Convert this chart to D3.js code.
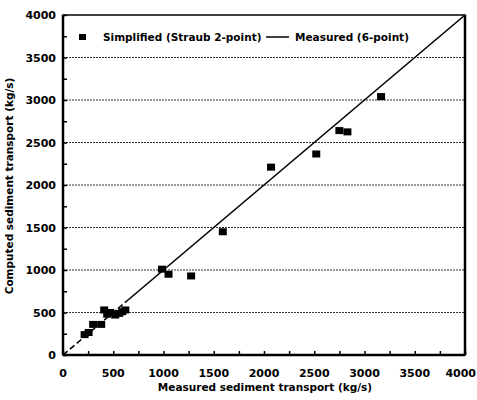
<!DOCTYPE html>
<html>
<head>
<meta charset="utf-8">
<script src="https://d3js.org/d3.v7.min.js"></script>
<style>
  body { margin: 0; background: #fff; }
  text { font-family: "DejaVu Sans", Arial, sans-serif; font-weight: bold; fill: #000; }
</style>
</head>
<body>
<div id="chart"></div>
<script>
// Simplified (Straub 2-point) points
const measured = [215, 255, 300, 380, 410, 440, 470, 520, 560, 590, 620,
                  985, 1050, 1275, 1590, 2070, 2520, 2750, 2830, 3165];
const computed = [240, 265, 360, 360, 530, 480, 500, 470, 490, 510, 530,
                  1010, 950, 930, 1450, 2210, 2365, 2640, 2625, 3040];
// Measured (6-point) reference line: y = x, dashed near the origin
const lineDashed = [0, 650];
const lineSolid = [650, 4000];
const xTicks = [0, 500, 1000, 1500, 2000, 2500, 3000, 3500, 4000];
const yTicks = [0, 500, 1000, 1500, 2000, 2500, 3000, 3500, 4000];
const gridValues = [500, 1000, 1500, 2000, 2500, 3000, 3500];

const W = 477, H = 400;
const margin = { top: 15, right: 12, bottom: 45, left: 63 };
const w = W - margin.left - margin.right;
const h = H - margin.top - margin.bottom;

const svg = d3.select("#chart").append("svg")
    .attr("width", W).attr("height", H);
const g = svg.append("g")
    .attr("transform", "translate(" + margin.left + "," + margin.top + ")");

const x = d3.scaleLinear().domain([0, 4000]).range([0, w]);
const y = d3.scaleLinear().domain([0, 4000]).range([h, 0]);

// dotted gridlines
g.selectAll(".grid").data(gridValues).enter().append("line")
    .attr("x1", 0).attr("x2", w)
    .attr("y1", d => y(d)).attr("y2", d => y(d))
    .attr("stroke", "#333").attr("stroke-width", 1)
    .attr("stroke-dasharray", "2,1");

// axes with inward minor ticks
const xAxis = d3.axisBottom(x).tickValues(d3.range(0, 4001, 250))
    .tickSize(-4).tickFormat("");
g.append("g").attr("transform", "translate(0," + h + ")").call(xAxis)
    .call(a => a.select(".domain").remove())
    .selectAll("line").attr("stroke", "#000").attr("stroke-width", 1.5);
const yAxis = d3.axisLeft(y).tickValues(d3.range(0, 4001, 250))
    .tickSize(-4).tickFormat("");
g.append("g").call(yAxis)
    .call(a => a.select(".domain").remove())
    .selectAll("line").attr("stroke", "#000").attr("stroke-width", 1.5);

// frame
g.append("rect").attr("x", 0).attr("y", 0).attr("width", w).attr("height", h)
    .attr("fill", "none").attr("stroke", "#000").attr("stroke-width", 1.5);
g.append("line").attr("x1", 0).attr("x2", 0).attr("y1", 0).attr("y2", h)
    .attr("stroke", "#000").attr("stroke-width", 2.5);
g.append("line").attr("x1", 0).attr("x2", w).attr("y1", h).attr("y2", h)
    .attr("stroke", "#000").attr("stroke-width", 2.5);
g.append("line").attr("x1", w).attr("x2", w).attr("y1", 0).attr("y2", h)
    .attr("stroke", "#000").attr("stroke-width", 2.5);

// tick labels (last one kept inside the window)
g.selectAll(".xl").data(xTicks).enter().append("text")
    .attr("x", d => d === 4000 ? w + margin.right - 1 : x(d)).attr("y", h + 22)
    .attr("text-anchor", d => d === 4000 ? "end" : "middle").attr("font-size", 11)
    .text(d => d);
g.selectAll(".yl").data(yTicks).enter().append("text")
    .attr("x", -7).attr("y", d => y(d) + 4)
    .attr("text-anchor", "end").attr("font-size", 11)
    .text(d => d);

// axis titles
svg.append("text").attr("x", 265).attr("y", 391)
    .attr("text-anchor", "middle").attr("font-size", 10.5)
    .text("Measured sediment transport (kg/s)");
svg.append("text")
    .attr("transform", "translate(13,186) rotate(-90)")
    .attr("text-anchor", "middle").attr("font-size", 10.5)
    .text("Computed sediment transport (kg/s)");

// measured line y = x
g.append("line")
    .attr("x1", x(lineDashed[0])).attr("y1", y(lineDashed[0]))
    .attr("x2", x(lineDashed[1])).attr("y2", y(lineDashed[1]))
    .attr("stroke", "#000").attr("stroke-width", 1.6)
    .attr("stroke-dasharray", "6,3");
g.append("line")
    .attr("x1", x(lineSolid[0])).attr("y1", y(lineSolid[0]))
    .attr("x2", x(lineSolid[1])).attr("y2", y(lineSolid[1]))
    .attr("stroke", "#000").attr("stroke-width", 1.6);

// points
const pts = measured.map((m, i) => ({ m: m, c: computed[i] }));
g.selectAll(".pt").data(pts).enter().append("rect")
    .attr("x", d => x(d.m) - 4).attr("y", d => y(d.c) - 3.5)
    .attr("width", 8).attr("height", 7).attr("fill", "#000");

// legend
const lg = svg.append("g");
lg.append("rect").attr("x", 79).attr("y", 34).attr("width", 7).attr("height", 6).attr("fill", "#000");
lg.append("text").attr("x", 103).attr("y", 41).attr("font-size", 10.5)
    .text("Simplified (Straub 2-point)");
lg.append("line").attr("x1", 266).attr("x2", 289).attr("y1", 37).attr("y2", 37)
    .attr("stroke", "#000").attr("stroke-width", 1.5);
lg.append("text").attr("x", 295).attr("y", 41).attr("font-size", 10.5)
    .text("Measured (6-point)");
</script>
</body>
</html>
